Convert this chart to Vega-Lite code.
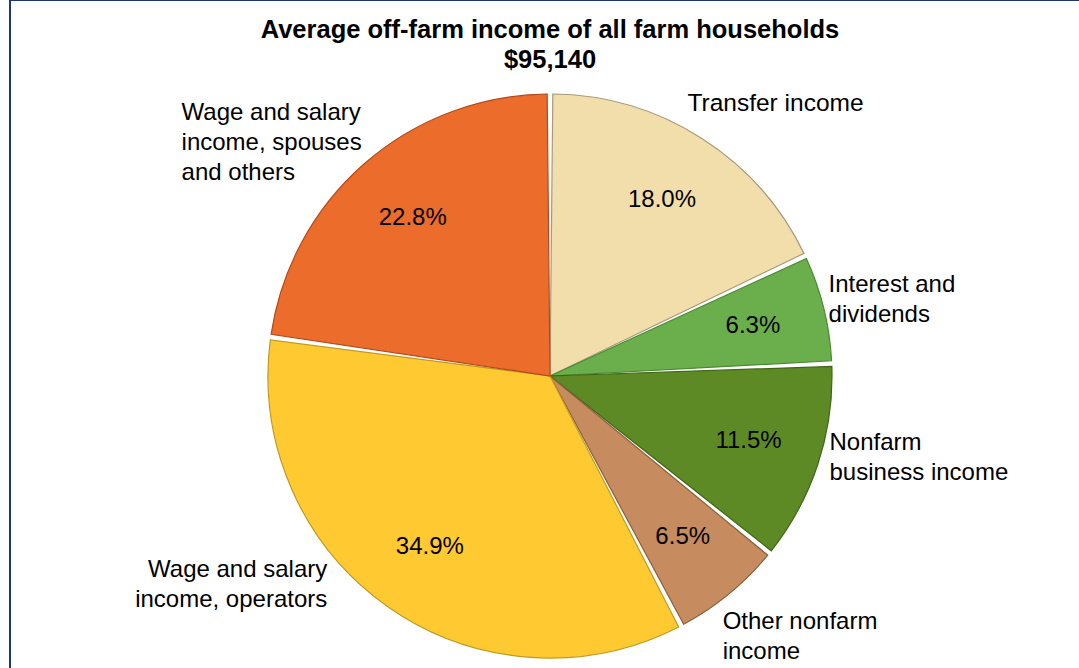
{
  "$schema": "https://vega.github.io/schema/vega-lite/v6.json",
  "width": 1080,
  "height": 752,
  "autosize": {"type": "none"},
  "padding": {"left": 10, "top": 0, "right": 0, "bottom": 0},
  "background": "white",
  "view": {"stroke": "#1B3A6B", "strokeWidth": 2},
  "config": {"view": {"stroke": "#1B3A6B", "strokeWidth": 2}, "font": "Liberation Sans"},
  "title": {
    "text": ["Average off-farm income of all farm households", "$95,140"],
    "fontSize": 25.5,
    "fontWeight": "bold",
    "font": "Liberation Sans",
    "color": "black",
    "lineHeight": 30,
    "anchor": "middle",
    "offset": -73
  },
  "data": {
    "values": [
      {"rank": 1, "category": "Transfer income", "label": "Transfer income", "share": 0.180},
      {"rank": 2, "category": "Interest and dividends", "label": "Interest and\ndividends", "share": 0.063},
      {"rank": 3, "category": "Nonfarm business income", "label": "Nonfarm\nbusiness income", "share": 0.115},
      {"rank": 4, "category": "Other nonfarm income", "label": "Other nonfarm\nincome", "share": 0.065},
      {"rank": 5, "category": "Wage and salary income, operators", "label": "Wage and salary\nincome, operators", "share": 0.349},
      {"rank": 6, "category": "Wage and salary income, spouses and others", "label": "Wage and salary\nincome, spouses\nand others", "share": 0.228}
    ]
  },
  "encoding": {
    "theta": {"field": "share", "type": "quantitative", "stack": true},
    "order": {"field": "rank", "type": "quantitative", "sort": "ascending"}
  },
  "layer": [
    {
      "mark": {"type": "arc", "outerRadius": 282, "padAngle": 0.02, "strokeWidth": 1.2},
      "encoding": {
        "color": {
          "field": "category", "type": "nominal", "legend": null,
          "scale": {
            "domain": ["Transfer income", "Interest and dividends", "Nonfarm business income", "Other nonfarm income", "Wage and salary income, operators", "Wage and salary income, spouses and others"],
            "range": ["#F2DEAA", "#6AAF4B", "#5E8A25", "#C68B5E", "#FFCA31", "#EC6C2B"]
          }
        },
        "stroke": {
          "field": "category", "type": "nominal", "legend": null,
          "scale": {
            "domain": ["Transfer income", "Interest and dividends", "Nonfarm business income", "Other nonfarm income", "Wage and salary income, operators", "Wage and salary income, spouses and others"],
            "range": ["#A8997A", "#4A8A30", "#3F6617", "#8B5E3C", "#BF9A1E", "#B34A1C"]
          }
        }
      }
    },
    {
      "mark": {"type": "text", "radius": 209, "fontSize": 24, "color": "black"},
      "encoding": {"text": {"field": "share", "type": "quantitative", "format": ".1%"}}
    },
    {
      "mark": {"type": "text", "radius": 320, "align": "left", "baseline": "middle", "dx": -34, "dy": -2, "fontSize": 24.5, "lineBreak": "\n", "lineHeight": 30, "color": "black"},
      "encoding": {"text": {"condition": {"test": "datum.rank === 1", "field": "label", "type": "nominal"}, "value": ""}}
    },
    {
      "mark": {"type": "text", "radius": 290, "align": "left", "baseline": "middle", "dx": -3, "dy": -22, "fontSize": 24, "lineBreak": "\n", "lineHeight": 30, "color": "black"},
      "encoding": {"text": {"condition": {"test": "datum.rank === 2", "field": "label", "type": "nominal"}, "value": ""}}
    },
    {
      "mark": {"type": "text", "radius": 290, "align": "left", "baseline": "middle", "dx": 4, "dy": -23, "fontSize": 24, "lineBreak": "\n", "lineHeight": 30, "color": "black"},
      "encoding": {"text": {"condition": {"test": "datum.rank === 3", "field": "label", "type": "nominal"}, "value": ""}}
    },
    {
      "mark": {"type": "text", "radius": 305, "align": "left", "baseline": "middle", "dx": -21, "dy": 10, "fontSize": 24, "lineBreak": "\n", "lineHeight": 30, "color": "black"},
      "encoding": {"text": {"condition": {"test": "datum.rank === 4", "field": "label", "type": "nominal"}, "value": ""}}
    },
    {
      "mark": {"type": "text", "radius": 290, "align": "right", "baseline": "middle", "dx": -56, "dy": -43, "fontSize": 24, "lineBreak": "\n", "lineHeight": 30, "color": "black"},
      "encoding": {"text": {"condition": {"test": "datum.rank === 5", "field": "label", "type": "nominal"}, "value": ""}}
    },
    {
      "mark": {"type": "text", "radius": 290, "align": "left", "baseline": "middle", "dx": -178, "dy": -44, "fontSize": 24, "lineBreak": "\n", "lineHeight": 30, "color": "black"},
      "encoding": {"text": {"condition": {"test": "datum.rank === 6", "field": "label", "type": "nominal"}, "value": ""}}
    }
  ]
}
